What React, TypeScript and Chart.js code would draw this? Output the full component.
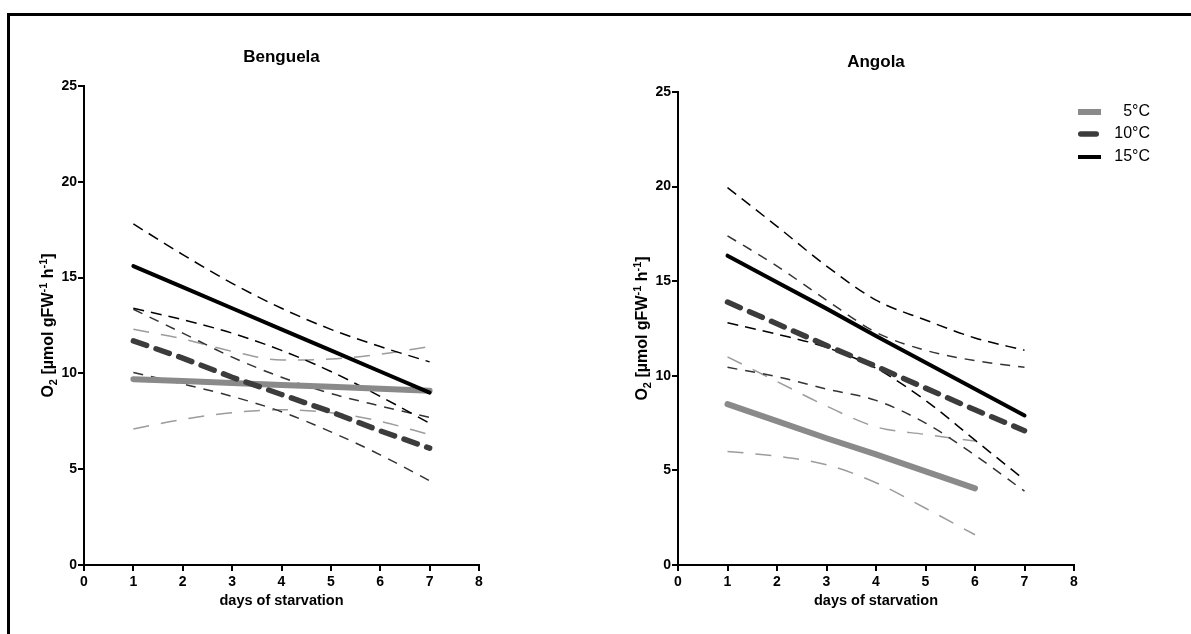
import React, { useEffect, useRef } from 'react';
import { Chart, registerables } from 'chart.js';

Chart.register(...registerables);

// ---------- data ----------
const days = [1, 2, 3, 4, 5, 6, 7];
const daysAngola5C = [1, 2, 3, 4, 5, 6];

const legendLabels = ['5°C', '10°C', '15°C'];

// Benguela
const benguela5Fit = [9.7, 9.6, 9.5, 9.4, 9.3, 9.2, 9.1];
const benguela5Upper = [12.3, 11.8, 11.15, 10.7, 10.75, 11.0, 11.4];
const benguela5Lower = [7.1, 7.6, 7.95, 8.1, 7.95, 7.5, 6.8];
const benguela10Fit = [11.7, 10.8, 9.8, 8.9, 8.0, 7.0, 6.1];
const benguela10Upper = [13.35, 12.1, 10.85, 9.8, 8.95, 8.3, 7.7];
const benguela10Lower = [10.05, 9.45, 8.8, 8.0, 6.95, 5.75, 4.4];
const benguela15Fit = [15.6, 14.5, 13.4, 12.3, 11.2, 10.1, 9.0];
const benguela15Upper = [17.8, 16.2, 14.7, 13.4, 12.3, 11.4, 10.6];
const benguela15Lower = [13.4, 12.8, 12.1, 11.2, 10.1, 8.8, 7.4];

// Angola
const angola5Fit = [8.5, 7.6, 6.7, 5.85, 4.95, 4.05];
const angola5Upper = [11.0, 9.7, 8.4, 7.3, 6.9, 6.55];
const angola5Lower = [6.0, 5.75, 5.3, 4.35, 3.0, 1.6];
const angola10Fit = [13.9, 12.75, 11.6, 10.5, 9.35, 8.2, 7.1];
const angola10Upper = [17.4, 15.8, 14.0, 12.3, 11.35, 10.8, 10.45];
const angola10Lower = [10.45, 9.95, 9.3, 8.7, 7.5, 5.8, 3.9];
const angola15Fit = [16.35, 14.95, 13.55, 12.1, 10.7, 9.3, 7.9];
const angola15Upper = [19.95, 17.9, 15.8, 14.0, 12.95, 12.0, 11.35];
const angola15Lower = [12.8, 12.2, 11.5, 10.4, 8.7, 6.6, 4.5];

const xTitle = 'days of starvation';
const yTitleSegments = [
  { text: 'O', shift: 0 },
  { text: '2', shift: 1 },
  { text: ' [µmol gFW', shift: 0 },
  { text: '-1', shift: -1 },
  { text: ' h', shift: 0 },
  { text: '-1', shift: -1 },
  { text: ']', shift: 0 },
];

// ---------- styles ----------
const FONT = "'Liberation Sans', Arial, Helvetica, sans-serif";

const STYLE: Record<string, any> = {
  fit5: { borderColor: '#8a8a8a', borderWidth: 6, borderDash: [], borderCapStyle: 'round', tension: 0 },
  ci5: { borderColor: '#9c9c9c', borderWidth: 1.5, borderDash: [16, 12], cubicInterpolationMode: 'monotone' },
  fit10: { borderColor: '#3c3c3c', borderWidth: 5.5, borderDash: [14, 10], borderCapStyle: 'round', tension: 0 },
  ci10: { borderColor: '#333333', borderWidth: 1.5, borderDash: [10, 8], cubicInterpolationMode: 'monotone' },
  fit15: { borderColor: '#000000', borderWidth: 4, borderDash: [], borderCapStyle: 'round', tension: 0 },
  ci15: { borderColor: '#000000', borderWidth: 1.5, borderDash: [11, 7], cubicInterpolationMode: 'monotone' },
};

function pts(xs: number[], ys: number[]) {
  return xs.map((x, i) => ({ x, y: ys[i] }));
}

function ds(label: string, xs: number[], ys: number[], style: string, legendIndex = -1) {
  return {
    label,
    data: pts(xs, ys),
    ...STYLE[style],
    fill: false,
    pointRadius: 0,
    pointHoverRadius: 0,
    legendIndex,
  };
}

// ---------- plugins ----------
const yTitlePlugin = {
  id: 'yTitleCustom',
  afterDraw(chart: any) {
    const { ctx, chartArea } = chart;
    const main = `bold 16px ${FONT}`;
    const small = `bold 11px ${FONT}`;
    ctx.save();
    let total = 0;
    const widths = yTitleSegments.map((s) => {
      ctx.font = s.shift ? small : main;
      const w = ctx.measureText(s.text).width;
      total += w;
      return w;
    });
    ctx.translate(chartArea.left - 31, (chartArea.top + chartArea.bottom) / 2);
    ctx.rotate(-Math.PI / 2);
    ctx.fillStyle = '#000';
    ctx.textBaseline = 'alphabetic';
    ctx.textAlign = 'left';
    let x = -total / 2;
    yTitleSegments.forEach((s, i) => {
      ctx.font = s.shift ? small : main;
      const dy = s.shift === 1 ? 4 : s.shift === -1 ? -6 : 0;
      ctx.fillText(s.text, x, dy);
      x += widths[i];
    });
    ctx.restore();
  },
};

const legendPlugin = {
  id: 'cornerLegend',
  afterDraw(chart: any, _args: any, opts: any) {
    if (!opts || !opts.display) return;
    const { ctx, chartArea } = chart;
    const items = chart.data.datasets
      .filter((d: any) => d.legendIndex >= 0)
      .sort((a: any, b: any) => a.legendIndex - b.legendIndex);
    ctx.save();
    const rowY = [20, 42, 65];
    items.forEach((d: any, i: number) => {
      const y = chartArea.top + rowY[i];
      const x0 = chartArea.right + 4;
      ctx.strokeStyle = d.borderColor;
      ctx.lineWidth = d.borderWidth;
      ctx.setLineDash([]);
      ctx.lineCap = d.borderDash && d.borderDash.length ? 'round' : 'butt';
      const inset = ctx.lineCap === 'round' ? d.borderWidth / 2 : 0;
      ctx.beginPath();
      ctx.moveTo(x0 + inset, y);
      ctx.lineTo(x0 + 23 - inset - (ctx.lineCap === 'round' ? 2 : 0), y);
      ctx.stroke();
      ctx.fillStyle = '#000';
      ctx.font = `16px ${FONT}`;
      ctx.textAlign = 'right';
      ctx.textBaseline = 'middle';
      ctx.fillText(d.label, chartArea.right + 76, y);
    });
    ctx.restore();
  },
};

function buildConfig(title: string, titlePad: { top: number; bottom: number }, datasets: any[], showLegend: boolean) {
  const tickFont = { family: FONT, size: 14, weight: 'bold' as const };
  const axisCommon = {
    type: 'linear' as const,
    border: { display: true, color: '#000', width: 2 },
    grid: { display: true, drawOnChartArea: false, drawTicks: true, tickLength: 6, color: '#000', lineWidth: 2 },
  };
  return {
    type: 'line' as const,
    data: { datasets },
    options: {
      responsive: false,
      animation: false as const,
      events: [],
      layout: { padding: { left: 0, right: 84, top: 0, bottom: 19 } },
      plugins: {
        legend: { display: false },
        tooltip: { enabled: false },
        title: {
          display: true,
          fullSize: false,
          text: title,
          color: '#000',
          font: { family: FONT, size: 17, weight: 'bold' as const, lineHeight: 1.2 },
          padding: titlePad,
        },
        cornerLegend: { display: showLegend },
      },
      scales: {
        x: {
          ...axisCommon,
          min: 0,
          max: 8,
          ticks: { stepSize: 1, color: '#000', font: tickFont, padding: 3, maxRotation: 0, autoSkip: false },
          title: {
            display: true,
            text: xTitle,
            color: '#000',
            font: { family: FONT, size: 14.5, weight: 'bold' as const, lineHeight: 1.2 },
            padding: { top: 2, bottom: 5 },
          },
          afterFit: (scale: any) => {
            scale.height = 50;
          },
        },
        y: {
          ...axisCommon,
          min: 0,
          max: 25,
          ticks: { stepSize: 5, color: '#000', font: tickFont, padding: 1 },
          afterFit: (scale: any) => {
            scale.width = 84;
          },
        },
      },
    },
    plugins: [yTitlePlugin, legendPlugin],
  };
}

function benguelaDatasets() {
  return [
    ds(legendLabels[2], days, benguela15Fit, 'fit15', 2),
    ds(legendLabels[1], days, benguela10Fit, 'fit10', 1),
    ds(legendLabels[0], days, benguela5Fit, 'fit5', 0),
    ds('15°C upper', days, benguela15Upper, 'ci15'),
    ds('15°C lower', days, benguela15Lower, 'ci15'),
    ds('10°C upper', days, benguela10Upper, 'ci10'),
    ds('10°C lower', days, benguela10Lower, 'ci10'),
    ds('5°C upper', days, benguela5Upper, 'ci5'),
    ds('5°C lower', days, benguela5Lower, 'ci5'),
  ];
}

function angolaDatasets() {
  return [
    ds(legendLabels[2], days, angola15Fit, 'fit15', 2),
    ds(legendLabels[1], days, angola10Fit, 'fit10', 1),
    ds(legendLabels[0], daysAngola5C, angola5Fit, 'fit5', 0),
    ds('15°C upper', days, angola15Upper, 'ci15'),
    ds('15°C lower', days, angola15Lower, 'ci15'),
    ds('10°C upper', days, angola10Upper, 'ci10'),
    ds('10°C lower', days, angola10Lower, 'ci10'),
    ds('5°C upper', daysAngola5C, angola5Upper, 'ci5'),
    ds('5°C lower', daysAngola5C, angola5Lower, 'ci5'),
  ];
}

export default function App() {
  const leftRef = useRef<HTMLCanvasElement>(null);
  const rightRef = useRef<HTMLCanvasElement>(null);

  useEffect(() => {
    const charts: Chart[] = [];
    if (leftRef.current) {
      charts.push(new Chart(leftRef.current, buildConfig('Benguela', { top: 46.8, bottom: 18.8 }, benguelaDatasets(), false) as any));
    }
    if (rightRef.current) {
      charts.push(new Chart(rightRef.current, buildConfig('Angola', { top: 52.2, bottom: 19.4 }, angolaDatasets(), true) as any));
    }
    return () => charts.forEach((c) => c.destroy());
  }, []);

  return (
    <div style={{ position: 'absolute', left: 0, top: 0, width: 1191, height: 634, overflow: 'hidden', background: '#fff' }}>
      <div
        style={{
          position: 'absolute',
          left: 7,
          top: 13,
          width: 1300,
          height: 700,
          border: '3px solid #000',
          boxSizing: 'border-box',
        }}
      />
      <canvas ref={leftRef} width={563} height={634} style={{ position: 'absolute', left: 0, top: 0 }} />
      <canvas ref={rightRef} width={564} height={634} style={{ position: 'absolute', left: 594, top: 0 }} />
    </div>
  );
}
